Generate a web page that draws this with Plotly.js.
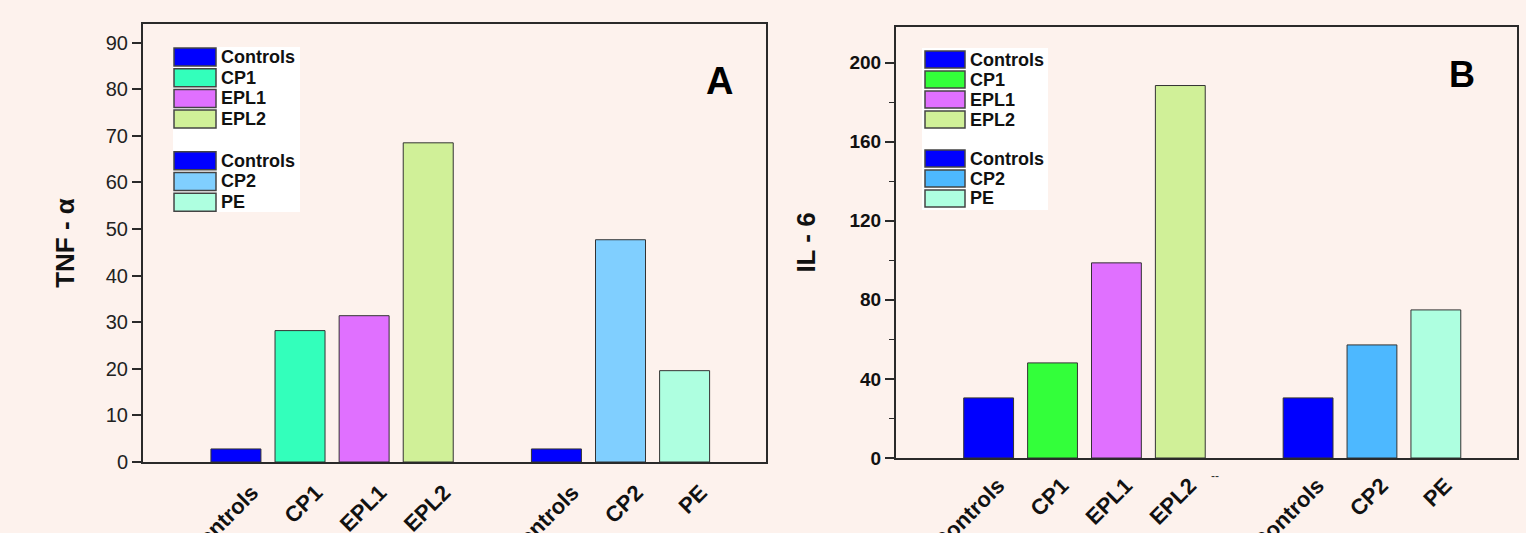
<!DOCTYPE html>
<html>
<head>
<meta charset="utf-8">
<script src="https://cdn.plot.ly/plotly-3.0.1.min.js"></script>
<style>html,body{margin:0;padding:0;background:#FDF2ED;}#chart{width:1526px;height:533px;}</style>
</head>
<body>
<div id="chart"></div>
<script>
// ---- data ----
const groupOneA = ['Controls', 'CP1', 'EPL1', 'EPL2'];
const groupTwoA = ['Controls', 'CP2', 'PE'];
const tnfGroupOne = [2.8, 28.2, 31.4, 68.5];
const tnfGroupTwo = [2.8, 47.7, 19.6];

const groupOneB = ['Controls', 'CP1', 'EPL1', 'EPL2'];
const groupTwoB = ['Controls', 'CP2', 'PE'];
const il6GroupOne = [30.4, 48.1, 98.7, 188.4];
const il6GroupTwo = [30.4, 57.2, 74.9];

// ---- styles ----
const colorsA1 = ['#0000FF', '#33FFBB', '#E070FF', '#D0F098'];
const colorsA2 = ['#0000FF', '#80CFFF', '#AEFFE0'];
const colorsB1 = ['#0000FF', '#33FF3A', '#E070FF', '#D0F098'];
const colorsB2 = ['#0000FF', '#4DB8FF', '#AEFFE0'];

const W = 1526, H = 533;
const FONT = 'Arial, "Liberation Sans", sans-serif';
const BG = '#FDF2ED';
const LINE = '#2a2a2a';

function makeTraces(g1, v1, c1, g2, v2, c2, xa, ya) {
  const traces = [];
  const pos = [];
  g1.forEach((name, i) => {
    pos.push(i);
    traces.push({type: 'bar', x: [i], y: [v1[i]], name: name, width: 0.78,
      xaxis: xa, yaxis: ya, showlegend: false,
      marker: {color: c1[i], line: {color: '#333', width: 1}}, hoverinfo: 'y+name'});
  });
  g2.forEach((name, i) => {
    const p = g1.length + 1 + i;
    pos.push(p);
    traces.push({type: 'bar', x: [p], y: [v2[i]], name: name, width: 0.78,
      xaxis: xa, yaxis: ya, showlegend: false,
      marker: {color: c2[i], line: {color: '#333', width: 1}}, hoverinfo: 'y+name'});
  });
  return {traces, pos};
}

const A = makeTraces(groupOneA, tnfGroupOne, colorsA1, groupTwoA, tnfGroupTwo, colorsA2, 'x', 'y');
const B = makeTraces(groupOneB, il6GroupOne, colorsB1, groupTwoB, il6GroupTwo, colorsB2, 'x2', 'y2');

// ---- legend boxes (drawn from the same name / colour arrays) ----
const px = v => v / W;
const py = v => 1 - v / H;
function legendBox(box, sw, names1, colors1, names2, colors2, shapes, annos) {
  shapes.push({type: 'rect', xref: 'paper', yref: 'paper', layer: 'above',
    x0: px(box.x0), x1: px(box.x1), y0: py(box.y1), y1: py(box.y0),
    fillcolor: '#FFFFFF', line: {width: 0}});
  const rows = [];
  names1.forEach((n, i) => rows.push({n, c: colors1[i], top: sw.top + i * sw.step}));
  const top2 = sw.top + names1.length * sw.step + sw.gap;
  names2.forEach((n, i) => rows.push({n, c: colors2[i], top: top2 + i * sw.step}));
  rows.forEach(r => {
    shapes.push({type: 'rect', xref: 'paper', yref: 'paper', layer: 'above',
      x0: px(sw.x0), x1: px(sw.x1), y0: py(r.top + sw.h), y1: py(r.top),
      fillcolor: r.c, line: {color: '#444', width: 1.5}});
    annos.push({text: r.n, xref: 'paper', yref: 'paper', x: px(sw.tx), y: py(r.top + sw.h / 2),
      xanchor: 'left', yanchor: 'middle', showarrow: false,
      font: {family: FONT, size: 18, weight: 'bold', color: '#111'}});
  });
}

const shapes = [];
const annotations = [
  {text: 'A', xref: 'paper', yref: 'paper', x: px(719), y: py(81), xanchor: 'center', yanchor: 'middle',
   showarrow: false, font: {family: FONT, size: 38, weight: 'bold', color: '#000'}},
  {text: 'B', xref: 'paper', yref: 'paper', x: px(1462), y: py(75), xanchor: 'center', yanchor: 'middle',
   showarrow: false, font: {family: FONT, size: 36, weight: 'bold', color: '#000'}},
  {text: '--', xref: 'x2', yref: 'paper', x: 3.55, y: py(476), xanchor: 'center', yanchor: 'middle',
   showarrow: false, font: {family: FONT, size: 12, color: '#333'}}
];
legendBox({x0: 173, x1: 300, y0: 47, y1: 212},
  {x0: 174, x1: 216, tx: 219, top: 48, h: 18, step: 20.7, gap: 21},
  groupOneA, colorsA1, groupTwoA, colorsA2, shapes, annotations);
legendBox({x0: 922, x1: 1048, y0: 48, y1: 210},
  {x0: 925, x1: 965, tx: 968, top: 51, h: 17, step: 20, gap: 19},
  groupOneB, colorsB1, groupTwoB, colorsB2, shapes, annotations);

const xRange = [-1.45, 8.27];

const xBase = {
  range: xRange, showline: true, mirror: true, linecolor: LINE, linewidth: 2,
  ticks: '', showgrid: false, zeroline: false, tickangle: -45, automargin: false,
  tickfont: {family: FONT, size: 22, weight: 'bold', color: '#111'}, fixedrange: true
};

const layout = {
  width: W, height: H,
  margin: {l: 0, r: 0, t: 0, b: 0},
  paper_bgcolor: BG, plot_bgcolor: BG,
  barmode: 'overlay',
  showlegend: false,
  xaxis: Object.assign({}, xBase, {
    domain: [px(143), px(766)], anchor: 'y',
    tickmode: 'array', tickvals: A.pos.map(p => p + 0.25),
    ticktext: groupOneA.concat(groupTwoA), ticklabelstandoff: 7
  }),
  yaxis: {
    domain: [py(462), py(24)], anchor: 'x', range: [0, 94],
    dtick: 10, tick0: 0, ticks: 'outside', ticklen: 9, tickwidth: 1.5, tickcolor: LINE,
    showline: true, mirror: true, linecolor: LINE, linewidth: 2,
    showgrid: false, zeroline: false, automargin: false,
    tickfont: {family: FONT, size: 20, color: '#222'},
    title: {text: 'TNF - α', font: {family: FONT, size: 26, weight: 'bold', color: '#111'}, standoff: 24},
    fixedrange: true
  },
  xaxis3: {
    overlaying: 'x', anchor: 'y', range: xRange, tickmode: 'array', tickvals: [-1.34, 3.5],
    ticks: 'outside', ticklen: 8, tickwidth: 1.5, tickcolor: LINE,
    showticklabels: false, showline: false, showgrid: false, zeroline: false, fixedrange: true
  },
  xaxis2: Object.assign({}, xBase, {
    domain: [px(896), px(1517)], anchor: 'y2',
    tickmode: 'array', tickvals: B.pos.map(p => p + 0.15),
    ticktext: groupOneB.concat(groupTwoB), ticklabelstandoff: 4
  }),
  yaxis2: {
    domain: [py(458), py(27)], anchor: 'x2', range: [0, 218],
    dtick: 40, tick0: 0, ticks: 'outside', ticklen: 9, tickwidth: 1.5, tickcolor: LINE,
    minor: {dtick: 20, ticks: 'outside', ticklen: 5, tickwidth: 1.2, tickcolor: LINE},
    showline: true, mirror: true, linecolor: LINE, linewidth: 2,
    showgrid: false, zeroline: false, automargin: false,
    tickfont: {family: FONT, size: 19, weight: 'bold', color: '#111'},
    title: {text: 'IL - 6', font: {family: FONT, size: 26, weight: 'bold', color: '#111'}, standoff: 26},
    fixedrange: true
  },
  xaxis4: {
    overlaying: 'x2', anchor: 'y2', range: xRange, tickmode: 'array', tickvals: [-1.36],
    ticks: 'outside', ticklen: 8, tickwidth: 1.5, tickcolor: LINE,
    showticklabels: false, showline: false, showgrid: false, zeroline: false, fixedrange: true
  },
  shapes: shapes,
  annotations: annotations
};

Plotly.newPlot('chart', A.traces.concat(B.traces), layout, {displayModeBar: false});
</script>
</body>
</html>
